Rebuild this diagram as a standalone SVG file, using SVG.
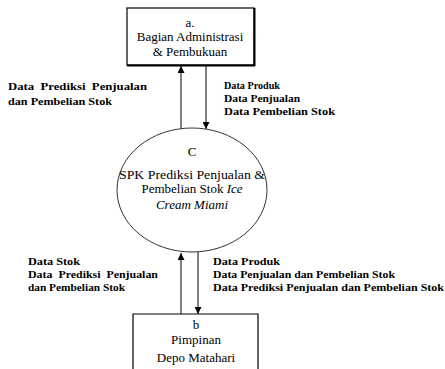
<svg xmlns="http://www.w3.org/2000/svg" width="445" height="369" viewBox="0 0 445 369">
<style>
.node{fill:#fff;stroke:#000;stroke-width:1.2}
.t{font-family:"Liberation Serif","Times New Roman",serif;font-size:13px;fill:#000;text-anchor:middle}
.lbl{font-family:"Liberation Serif","Times New Roman",serif;font-size:11px;font-weight:bold;fill:#000}
.c{stroke:#000;stroke-width:1;fill:none}
</style>
<defs>
<marker id="ah" viewBox="0 0 10 10" refX="10" refY="5" markerWidth="7" markerHeight="7" markerUnits="userSpaceOnUse" orient="auto">
<path d="M0,0 L10,5 L0,10 z" fill="#000"/>
</marker>
</defs>
<rect width="445" height="369" fill="#fff"/>
<g id="connectors">
<line class="c" x1="181" y1="129" x2="181" y2="66" marker-end="url(#ah)"/>
<line class="c" x1="206" y1="65" x2="206" y2="129" marker-end="url(#ah)"/>
<line class="c" x1="181" y1="314" x2="181" y2="253" marker-end="url(#ah)"/>
<line class="c" x1="198" y1="252" x2="198" y2="314" stroke-width="2" marker-end="url(#ah)"/>
</g>
<g id="labels">
<text class="lbl" x="8" y="90" textLength="139" lengthAdjust="spacingAndGlyphs" xml:space="preserve">Data  Prediksi  Penjualan</text>
<text class="lbl" x="8" y="105" textLength="104" lengthAdjust="spacingAndGlyphs">dan Pembelian Stok</text>
<text class="lbl" x="224" y="89" textLength="56" lengthAdjust="spacingAndGlyphs">Data Produk</text>
<text class="lbl" x="224" y="102" textLength="76" lengthAdjust="spacingAndGlyphs">Data Penjualan</text>
<text class="lbl" x="224" y="115" textLength="111" lengthAdjust="spacingAndGlyphs">Data Pembelian Stok</text>
<text class="lbl" x="28" y="265" textLength="52" lengthAdjust="spacingAndGlyphs">Data Stok</text>
<text class="lbl" x="28" y="278" textLength="130" lengthAdjust="spacingAndGlyphs" xml:space="preserve">Data  Prediksi  Penjualan</text>
<text class="lbl" x="28" y="291" textLength="97" lengthAdjust="spacingAndGlyphs">dan Pembelian Stok</text>
<text class="lbl" x="213" y="265" textLength="67" lengthAdjust="spacingAndGlyphs">Data Produk</text>
<text class="lbl" x="213" y="278" textLength="182" lengthAdjust="spacingAndGlyphs">Data Penjualan dan Pembelian Stok</text>
<text class="lbl" x="213" y="291" textLength="231" lengthAdjust="spacingAndGlyphs">Data Prediksi Penjualan dan Pembelian Stok</text>
</g>
<g id="node-a">
<rect class="node" x="127" y="8" width="127" height="57"/>
<line x1="127" y1="65.5" x2="255" y2="65.5" stroke="#000" stroke-width="2"/>
<line x1="254.5" y1="8" x2="254.5" y2="66" stroke="#000" stroke-width="2"/>
<text class="t" x="190" y="27">a.</text>
<text class="t" x="190" y="41">Bagian Administrasi</text>
<text class="t" x="190" y="56">&amp; Pembukuan</text>
</g>
<g id="node-c">
<ellipse cx="192" cy="190" rx="75" ry="62" fill="#fff" stroke="#333" stroke-width="1"/>
<text class="t" x="192" y="156">C</text>
<text class="t" x="192" y="179" font-size="12" textLength="146" lengthAdjust="spacingAndGlyphs">SPK Prediksi Penjualan &amp;</text>
<text class="t" x="192" y="193" font-size="12">Pembelian Stok <tspan font-style="italic">Ice</tspan></text>
<text class="t" x="192" y="209" font-size="10" font-style="italic">Cream Miami</text>
</g>
<g id="node-b">
<path class="node" d="M133,372 L133,314 L258,314 L258,372"/>
<text class="t" x="196" y="329">b</text>
<text class="t" x="196" y="344">Pimpinan</text>
<text class="t" x="196" y="362">Depo Matahari</text>
</g>
</svg>
